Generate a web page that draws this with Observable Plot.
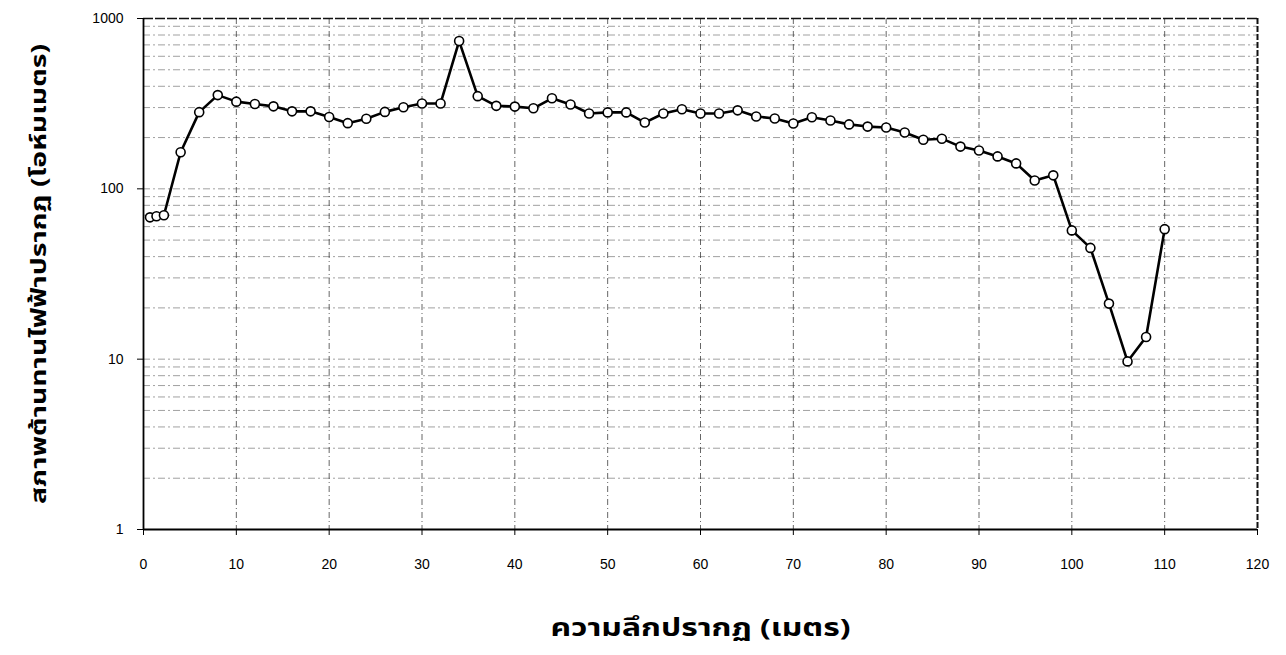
<!DOCTYPE html>
<html>
<head>
<meta charset="utf-8">
<script src="https://cdn.jsdelivr.net/npm/d3@7"></script>
<script src="https://cdn.jsdelivr.net/npm/@observablehq/plot@0.6"></script>
<style>
  html, body { margin: 0; padding: 0; background: #fff; }
  #chart svg { display: block; }
</style>
</head>
<body>
<div id="chart"></div>
<script>
// Apparent depth (m)
const depth = [0.7, 1.4, 2.2, 4, 6, 8, 10, 12, 14, 16, 18, 20, 22, 24, 26, 28, 30, 32, 34, 36, 38, 40,
  42, 44, 46, 48, 50, 52, 54, 56, 58, 60, 62, 64, 66, 68, 70, 72, 74, 76, 78, 80, 82, 84, 86, 88,
  90, 92, 94, 96, 98, 100, 102, 104, 106, 108, 110];
// Apparent resistivity (ohm-m)
const resistivity = [68, 69, 70, 164, 282, 355, 325, 315, 305, 285, 285, 264, 243, 258, 283, 301, 317, 317, 737, 350, 307, 304,
  297, 340, 313, 277, 281, 281, 245, 277, 293, 277, 277, 289, 266, 259, 242, 263, 252, 239, 232, 229, 214, 194, 197, 177,
  168, 155, 141, 112, 120, 57, 45, 21.2, 9.7, 13.5, 58];

const xTicks = [0, 10, 20, 30, 40, 50, 60, 70, 80, 90, 100, 110, 120];
const yTicks = [1, 10, 100, 1000];
const yGrid = [2, 3, 4, 5, 6, 7, 8, 9, 10, 20, 30, 40, 50, 60, 70, 80, 90, 100, 200, 300, 400, 500, 600, 700, 800, 900];
const xGrid = [10, 20, 30, 40, 50, 60, 70, 80, 90, 100, 110];

const xLabel = "ความลึกปรากฏ (เมตร)";
const yLabel = "สภาพต้านทานไฟฟ้าปรากฏ (โอห์มเมตร)";

const data = depth.map((d, i) => ({depth: d, rho: resistivity[i]}));

const thaiFont = "'Noto Sans Thai', 'Noto Sans Thai UI', 'Tlwg Typist', Garuda, Loma, 'DejaVu Sans', sans-serif";

const chart = Plot.plot({
  width: 1286,
  height: 655,
  marginLeft: 143,
  marginRight: 29,
  marginTop: 18,
  marginBottom: 126,
  style: {fontFamily: "'Liberation Sans', Arial, sans-serif", background: "#fff", color: "#000"},
  x: {domain: [0, 120], label: null},
  y: {type: "log", domain: [1, 1000], label: null},
  marks: [
    Plot.ruleY(yGrid, {stroke: "#444", strokeWidth: 1, strokeDasharray: "7,3,2,3", strokeOpacity: 0.5}),
    Plot.ruleX(xGrid, {stroke: "#333", strokeWidth: 1, strokeDasharray: "6,3,1,3", strokeOpacity: 0.75}),
    Plot.ruleY([1000], {stroke: "#111", strokeWidth: 1.5, strokeDasharray: "10,2"}),
    Plot.ruleX([120], {stroke: "#111", strokeWidth: 2, strokeDasharray: "6,2"}),
    Plot.ruleX([0], {stroke: "#000", strokeWidth: 1.8}),
    Plot.ruleY([1], {stroke: "#000", strokeWidth: 1.8}),
    Plot.axisX({ticks: xTicks, tickSize: 6, tickPadding: 24, fontSize: 14, label: null, tickFormat: d => String(d)}),
    Plot.axisY({ticks: yTicks, tickSize: 6, tickPadding: 14, fontSize: 14, label: null, tickFormat: d => String(d)}),
    Plot.line(data, {x: "depth", y: "rho", stroke: "#000", strokeWidth: 2.6}),
    Plot.dot(data, {x: "depth", y: "rho", r: 4.5, fill: "#fff", stroke: "#000", strokeWidth: 1.6}),
    Plot.text([xLabel], {frameAnchor: "bottom", dy: 106, fontSize: 24, fontWeight: "bold", fontFamily: thaiFont, fill: "#000", className: "xlab"}),
    Plot.text([yLabel], {frameAnchor: "left", textAnchor: "middle", dx: -105, rotate: -90, fontSize: 22, fontWeight: "bold", fontFamily: thaiFont, fill: "#000", className: "ylab"})
  ]
});

// condense the axis titles to the reference's lengths
d3.select(chart).selectAll(".xlab text").attr("textLength", 300).attr("lengthAdjust", "spacingAndGlyphs");
d3.select(chart).selectAll(".ylab text").attr("textLength", 460).attr("lengthAdjust", "spacingAndGlyphs");

document.getElementById("chart").appendChild(chart);
</script>
</body>
</html>
